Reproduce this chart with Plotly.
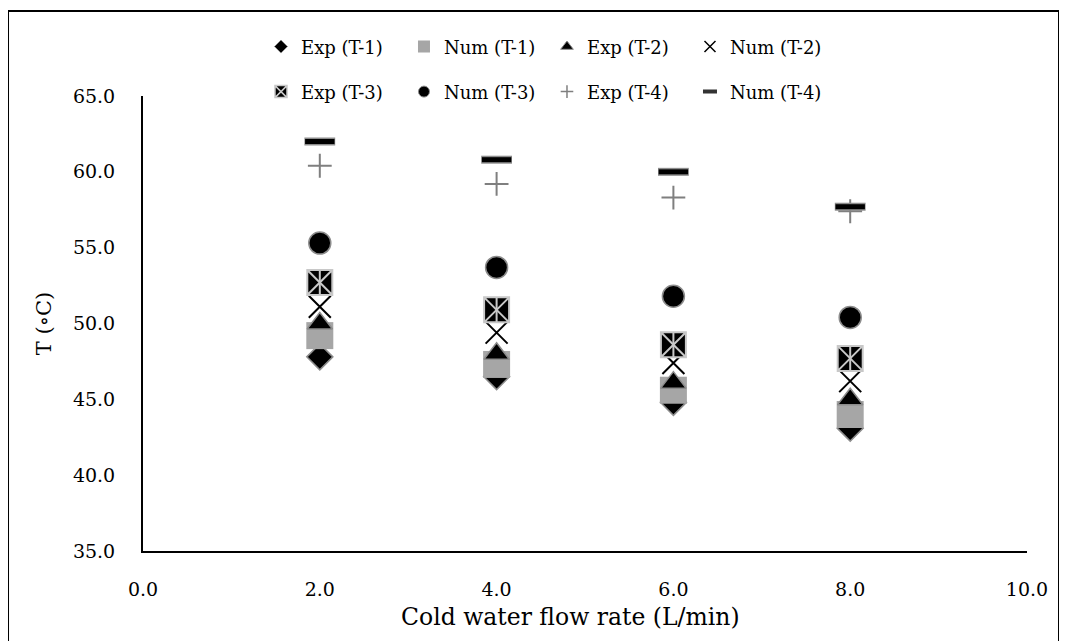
import plotly.graph_objects as go

flow_rate = [2.0, 4.0, 6.0, 8.0]
exp_t1 = [47.8, 46.5, 44.8, 43.1]
num_t1 = [49.2, 47.3, 45.6, 44.0]
exp_t2 = [50.0, 48.0, 46.1, 45.0]
num_t2 = [51.1, 49.4, 47.4, 46.2]
exp_t3 = [52.7, 50.9, 48.6, 47.7]
num_t3 = [55.3, 53.7, 51.8, 50.4]
exp_t4 = [60.4, 59.2, 58.3, 57.4]
num_t4 = [62.0, 60.8, 60.0, 57.7]

x_ticks = [0, 2, 4, 6, 8, 10]
y_ticks = [35, 40, 45, 50, 55, 60, 65]

FONT = "DejaVu Serif"
GREY_OUT = "#8c8c8c"

fig = go.Figure()

def add(y, marker, name=None):
    fig.add_trace(go.Scatter(x=flow_rate, y=y, mode="markers", marker=marker,
                             showlegend=False, hoverinfo="skip", name=name or ""))

# data traces (drawing order as in the source)
add(exp_t1, dict(symbol="diamond", size=20, color="black", line=dict(color=GREY_OUT, width=1.5)))
add(num_t1, dict(symbol="square", size=27, color="#a6a6a6", line=dict(width=0)))
add(exp_t2, dict(symbol="triangle-up", size=22, color="black", line=dict(color=GREY_OUT, width=1.5)))
add(num_t2, dict(symbol="x-thin", size=22, color="black", line=dict(color="black", width=2)))
add(exp_t3, dict(symbol="square-x", size=25, color="black", line=dict(color="#c8c8c8", width=2)))
add(exp_t3, dict(symbol="line-ns", size=18, color="#c8c8c8", line=dict(color="#c8c8c8", width=2)))
add(num_t3, dict(symbol="circle", size=22, color="black", line=dict(color=GREY_OUT, width=1.5)))
add(exp_t4, dict(symbol="cross-thin", size=17, color="#7f7f7f", line=dict(color="#7f7f7f", width=2)))
add(num_t4, dict(symbol="line-ew", size=22, color=GREY_OUT, line=dict(color=GREY_OUT, width=8)))
add(num_t4, dict(symbol="line-ew", size=21, color="black", line=dict(color="black", width=5)))

# legend entries
legend_items = [
    ("Exp (T-1)", dict(symbol="diamond", size=10, color="black", line=dict(color=GREY_OUT, width=1)), "legend"),
    ("Num (T-1)", dict(symbol="square", size=12, color="#a6a6a6", line=dict(width=0)), "legend"),
    ("Exp (T-2)", dict(symbol="triangle-up", size=11, color="black", line=dict(color=GREY_OUT, width=1)), "legend"),
    ("Num (T-2)", dict(symbol="x-thin", size=11, color="black", line=dict(color="black", width=1.5)), "legend"),
    ("Exp (T-3)", dict(symbol="square-x", size=12, color="black", line=dict(color="#c8c8c8", width=1.5)), "legend2"),
    ("Num (T-3)", dict(symbol="circle", size=11, color="black", line=dict(color=GREY_OUT, width=1)), "legend2"),
    ("Exp (T-4)", dict(symbol="cross-thin", size=9, color="#7f7f7f", line=dict(color="#7f7f7f", width=1.5)), "legend2"),
    ("Num (T-4)", dict(symbol="line-ew", size=10, color="black", line=dict(color="#333333", width=4)), "legend2"),
]
for name, mk, lg in legend_items:
    fig.add_trace(go.Scatter(x=[None], y=[None], mode="markers", marker=mk, name=name,
                             showlegend=True, legend=lg))

legend_common = dict(orientation="h", xanchor="center", x=0.457, yanchor="middle",
                     font=dict(family=FONT, size=18, color="black"),
                     bgcolor="rgba(0,0,0,0)", itemwidth=30, tracegroupgap=0,
                     entrywidth=98, entrywidthmode="pixels")

fig.update_layout(
    width=1059, height=633,
    margin=dict(l=135, r=40, t=88, b=90, autoexpand=False),
    paper_bgcolor="white", plot_bgcolor="white",
    font=dict(family=FONT, size=19, color="black"),
    legend=dict(y=1.108, **legend_common),
    legend2=dict(y=1.009, **legend_common),
    xaxis=dict(range=[0, 10], tickvals=x_ticks, ticktext=[f"{v:.1f}" for v in x_ticks],
               showgrid=False, zeroline=False, showline=True, linecolor="black", linewidth=2,
               ticks="", ticklabelstandoff=20, tickfont=dict(size=19)),
    yaxis=dict(range=[35, 65], tickvals=y_ticks, ticktext=[f"{v:.1f}" for v in y_ticks],
               showgrid=False, zeroline=False, showline=True, linecolor="black", linewidth=2,
               ticks="", ticklabelstandoff=22, tickfont=dict(size=19),
               title=dict(text="T (∘C)", font=dict(family=FONT, size=21), standoff=16)),
    annotations=[dict(text="Cold water flow rate (L/min)", xref="paper", yref="paper",
                      x=0.484, y=-0.145, xanchor="center", yanchor="middle", showarrow=False,
                      font=dict(family=FONT, size=23.5, color="black"))],
    shapes=[dict(type="rect", xref="paper", yref="paper",
                 x0=-0.1527, x1=1.0362, y0=-0.25, y1=1.187,
                 line=dict(color="black", width=2), fillcolor="rgba(0,0,0,0)", layer="below")],
)

fig.write_html("out.html")
